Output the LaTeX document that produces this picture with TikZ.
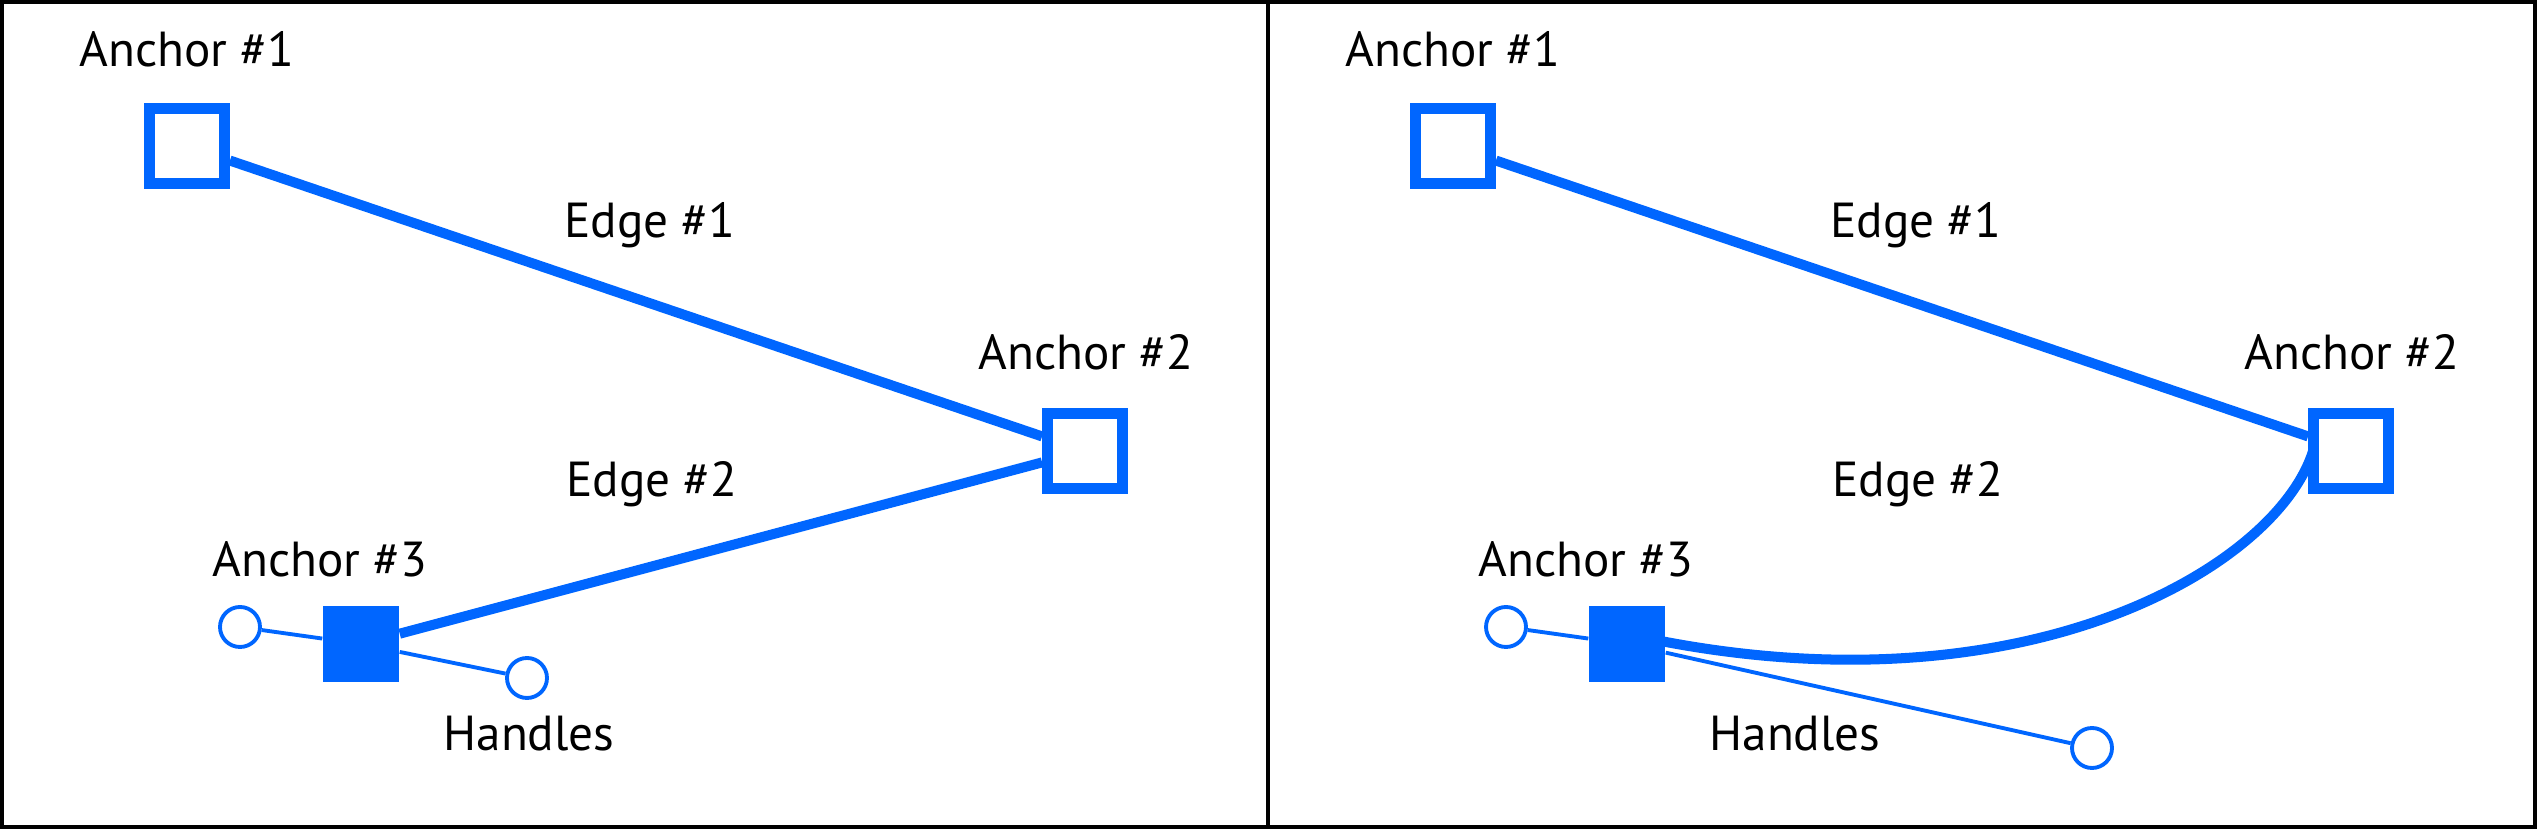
\documentclass[tikz,border=0pt]{standalone}
\usepackage{fontspec}
\setmainfont{PT Sans}
\definecolor{pathblue}{RGB}{0,102,255}
\tikzset{
  anchorbox/.style={draw=pathblue, line width=3.1pt, fill=white, minimum size=0.75cm, inner sep=0pt},
  anchorsel/.style={fill=pathblue, minimum size=0.76cm, inner sep=0pt},
  handledot/.style={circle, draw=pathblue, line width=1.1pt, fill=white, minimum size=0.4cm, inner sep=0pt},
  pathedge/.style={pathblue, line width=2.85pt},
  handleline/.style={pathblue, line width=1.1pt},
  lbl/.style={anchor=base, font=\fontsize{14}{16}\selectfont}
}

\begin{document}
\begin{tikzpicture}
		\useasboundingbox (0,0) rectangle (25.37,8.29);
		\draw[line width=1.1pt] (0.02,0.02) rectangle (25.35,8.27);
		\draw[line width=1.1pt] (12.68,0) -- (12.68,8.29);
		
		% left panel: straight segments
		\node[anchorbox] (a1l) at (1.87,6.83) {};
		\node[anchorbox] (a2l) at (10.85,3.78) {};
		\node[anchorsel] (a3l) at (3.61,1.85) {};
		\node[handledot] (h1l) at (2.40,2.02) {};
		\node[handledot] (h2l) at (5.27,1.51) {};
		\draw[handleline] (a3l) -- (h1l) (a3l) -- (h2l);
		\draw[pathedge] (a1l) -- (a2l);
		\draw[pathedge] (a3l) -- (a2l);
		\node[lbl] (t1l) at (1.87,7.62) {Anchor \#1};
		\node[lbl] (t2l) at (10.86,4.59) {Anchor \#2};
		\node[lbl] (t3l) at (3.20,2.52) {Anchor \#3};
		\node[lbl] (e1l) at (6.50,5.91) {Edge \#1};
		\node[lbl] (e2l) at (6.52,3.32) {Edge \#2};
		\node[lbl] (hl) at (5.29,0.78) {Handles};
		
		% right panel: curved second edge
		\begin{scope}[xshift=12.66cm]
		\node[anchorbox] (a1r) at (1.87,6.83) {};
		\node[anchorbox] (a2r) at (10.85,3.78) {};
		\node[anchorsel] (a3r) at (3.61,1.85) {};
		\node[handledot] (h1r) at (2.40,2.02) {};
		\node[handledot] (h2r) at (8.26,0.81) {};
		\coordinate (c1r) at (7.50,1.08);
		\coordinate (c2r) at (10.10,2.60);
		\draw[handleline] (a3r) -- (h1r) (a3r) -- (h2r);
		\draw[pathedge] (a1r) -- (a2r);
		\draw[pathedge] ([yshift=0.1cm]a3r.center) .. controls (c1r) and (c2r) .. ([xshift=0.05cm]a2r.west);
		\node[lbl] (t1r) at (1.87,7.62) {Anchor \#1};
		\node[lbl] (t2r) at (10.86,4.59) {Anchor \#2};
		\node[lbl] (t3r) at (3.20,2.52) {Anchor \#3};
		\node[lbl] (e1r) at (6.50,5.91) {Edge \#1};
		\node[lbl] (e2r) at (6.52,3.32) {Edge \#2};
		\node[lbl] (hr) at (5.29,0.78) {Handles};
		\end{scope}
		\end{tikzpicture}
\end{document}
